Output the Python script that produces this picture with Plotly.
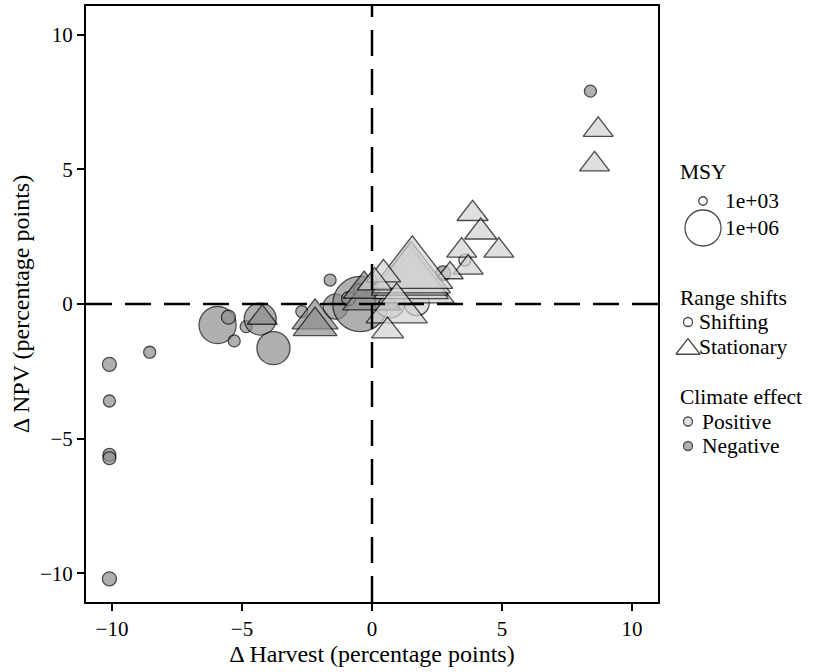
import numpy as np
import plotly.graph_objects as go

# ---------------- data ----------------
harvest = [-10.1, -10.1, -10.1, -10.1, -10.1, -8.55, -5.94, -5.52, -5.3, -4.84, -4.3, -3.79,
           -2.7, -1.61, -1.4, -0.45, -0.9, 2.74, 8.4, 3.57, 0.69, 1.72, 0.0, -0.46,
           -4.22, -2.19, -2.19, 0.0, -0.3,
           8.7, 8.56, 3.87, 4.18, 4.88, 3.45, 3.7, 3.0, 1.7, 1.5, 1.45, 1.5, 1.55, 0.44, 0.95, 0.6, 0.1]
npv = [-2.24, -3.6, -5.6, -5.72, -10.2, -1.79, -0.78, -0.49, -1.37, -0.84, -0.56, -1.64,
       -0.28, 0.89, -0.1, 0.0, 0.2, 1.14, 7.9, 1.63, 0.04, 0.03, 0.52, 0.52,
       -0.51, -0.55, -0.82, 0.25, 0.55,
       6.46, 5.18, 3.35, 2.67, 1.98, 1.98, 1.35, 1.15, 0.65, 0.8, 0.95, 1.05, 1.23, 1.1, -0.21, -1.0, 0.8]
range_shift = (["Shifting"] * 24) + (["Stationary"] * 22)
climate = (["Negative"] * 19) + (["Positive"] * 3) + (["Negative"] * 7) + (["Positive"] * 17)
msy = [4.0e3, 2.4e3, 3.1e3, 3.1e3, 4.0e3, 2.4e3, 1.3e6, 4.0e3, 2.4e3, 2.4e3, 3.6e5, 4.7e5,
       2.4e3, 2.4e3, 6.3e4, 1.2e8, 4.0e3, 5.1e3, 2.4e3, 2.4e3, 2.2e5, 6.3e4, 3.1e3, 3.1e3,
       1.5e4, 2.0e5, 1.4e5, 1.5e6, 1.0e5,
       1.5e4, 1.5e4, 1.8e4, 2.1e4, 1.5e4, 1.5e4, 1.5e4, 8.5e3, 2.5e7, 2.0e7, 3.0e7, 4.0e7, 5.4e7,
       3.1e4, 2.3e6, 2.1e4, 3.1e4]

x_ticks = [-10, -5, 0, 5, 10]
y_ticks = [-10, -5, 0, 5, 10]
msy_breaks = [1e3, 1e6]
msy_labels = ["1e+03", "1e+06"]
shift_levels = ["Shifting", "Stationary"]
effect_levels = ["Positive", "Negative"]

# ---------------- styles / scales ----------------
FONT = "'Liberation Serif', 'Times New Roman', Times, 'DejaVu Serif', serif"
FILL = {"Positive": "#D2D2D2", "Negative": "#8F8F8F"}
SYMBOL = {"Shifting": "circle", "Stationary": "triangle-up"}
TRI_FACTOR = 1.35
OUTLINE = 1.3


def msy_px(m):
    return 8.5 + 9.17 * (np.log10(m) - 3)


sizes = [msy_px(m) * (TRI_FACTOR if s == "Stationary" else 1.0) for m, s in zip(msy, range_shift)]

fig = go.Figure()
fig.add_trace(go.Scatter(
    x=harvest, y=npv, mode="markers",
    marker=dict(symbol=[SYMBOL[s] for s in range_shift],
                color=[FILL[c] for c in climate],
                size=sizes,
                line=dict(color="black", width=OUTLINE)),
    showlegend=False, hoverinfo="skip"))

# ---------------- custom legend (pixel-mapped helper axes) ----------------
L, R, T, B = 86, 0, 6, 70
W, H = 817, 672
pw = W - L - R
main_dom = (658 - L) / pw
leg_dom0 = 0.79
x2_lo = L + leg_dom0 * pw

msy_rows = [201, 228]
shift_rows = [322, 347]
effect_rows = [421.5, 446]

leg_x, leg_y, leg_sym, leg_col, leg_size = [], [], [], [], []
for b, yy in zip(msy_breaks, msy_rows):
    leg_x.append(703); leg_y.append(yy); leg_sym.append("circle"); leg_col.append("white"); leg_size.append(msy_px(b))
for lv, yy in zip(shift_levels, [322, 349]):
    leg_x.append(688); leg_y.append(yy); leg_sym.append(SYMBOL[lv]); leg_col.append("white")
    leg_size.append(9 if lv == "Shifting" else 21)
for lv, yy in zip(effect_levels, effect_rows):
    leg_x.append(688); leg_y.append(yy); leg_sym.append("circle"); leg_col.append(FILL[lv]); leg_size.append(9)

fig.add_trace(go.Scatter(
    x=leg_x, y=leg_y, xaxis="x2", yaxis="y2", mode="markers",
    marker=dict(symbol=leg_sym, color=leg_col, size=leg_size, line=dict(color="black", width=OUTLINE)),
    showlegend=False, hoverinfo="skip", cliponaxis=False))

LEG_FS = 21.5
annots = []
def txt(x, y, s):
    annots.append(dict(x=x, y=y, xref="x2", yref="y2", text=s, showarrow=False, borderpad=0,
                       xanchor="left", yanchor="middle", font=dict(family=FONT, size=LEG_FS, color="black")))

txt(679, 172, "MSY")
for lab, yy in zip(msy_labels, msy_rows):
    txt(724, yy, lab)
txt(679, 298, "Range shifts")
for lv, yy in zip(shift_levels, shift_rows):
    txt(698, yy, lv)
txt(679, 397, "Climate effect")
for lv, yy in zip(effect_levels, effect_rows):
    txt(701, yy, lv)

# ---------------- reference lines ----------------
shapes = [
    dict(type="line", xref="x", yref="y domain", x0=0, x1=0, y0=0, y1=1,
         line=dict(color="black", width=2.5, dash="26px,13px"), layer="above"),
    dict(type="line", xref="x domain", yref="y", x0=0, x1=1, y0=0, y1=0,
         line=dict(color="black", width=2.5, dash="26px,13px"), layer="above"),
]

axis_common = dict(showgrid=False, zeroline=False, showline=True, linecolor="black", linewidth=2,
                   mirror=True, ticks="outside", ticklen=7, tickwidth=1.5, tickcolor="black",
                   tickfont=dict(family=FONT, size=21, color="black"),
                   title_font=dict(family=FONT, size=24, color="black"))

fig.update_layout(
    width=W, height=H, margin=dict(l=L, r=R, t=T, b=B, autoexpand=False),
    paper_bgcolor="white", plot_bgcolor="white",
    font=dict(family=FONT, size=20, color="black"),
    xaxis=dict(domain=[0, main_dom], range=[-11, 11], tickvals=x_ticks,
               ticktext=[str(v).replace("-", "\u2212") for v in x_ticks],
               title=dict(text="\u0394 Harvest (percentage points)", standoff=2), automargin=False,
               **axis_common),
    yaxis=dict(domain=[0, 1], range=[-11.06, 11.06], tickvals=y_ticks,
               ticktext=[str(v).replace("-", "\u2212") for v in y_ticks],
               title=dict(text="\u0394 NPV (percentage points)", standoff=4), automargin=False,
               **axis_common),
    xaxis2=dict(domain=[leg_dom0, 1], range=[x2_lo, W], visible=False, anchor="y2"),
    yaxis2=dict(domain=[0, 1], range=[H - B, T], visible=False, anchor="x2"),
    shapes=shapes, annotations=annots, showlegend=False,
)

fig.write_html("out.html", config={"displayModeBar": False},
               post_script="document.body.style.margin='0px';document.body.style.padding='0px';")
